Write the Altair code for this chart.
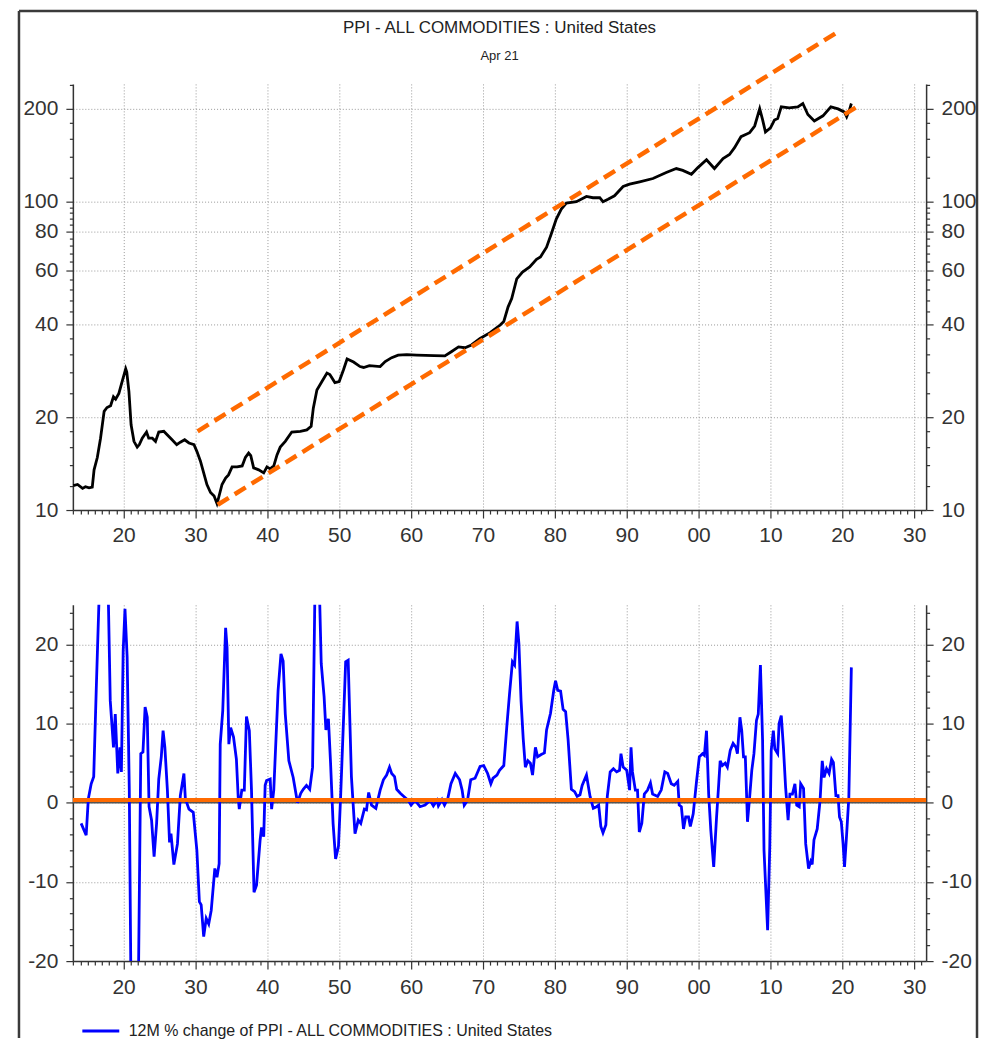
import altair as alt
import pandas as pd

FONT = "Liberation Sans"

# ---------------- data ----------------
top_year = [1913.0, 1913.6, 1914.3, 1914.7, 1915.2, 1915.65, 1915.9, 1916.35, 1916.8, 1917.3,
            1917.7, 1918.2, 1918.6, 1918.9, 1919.35, 1919.8, 1920.3, 1920.45, 1920.75, 1921.05,
            1921.45, 1921.9, 1922.2, 1922.6, 1923.2, 1923.5, 1924.0, 1924.45, 1924.9, 1925.6,
            1926.0, 1926.75, 1927.4, 1927.9, 1928.5, 1929.1, 1929.8, 1930.2, 1930.7, 1931.15,
            1931.6, 1932.1, 1932.6, 1933.0, 1933.2, 1933.7, 1934.2, 1934.6, 1935.1, 1935.8,
            1936.5, 1936.95, 1937.4, 1937.7, 1938.1, 1938.8, 1939.5, 1939.95, 1940.4, 1940.9,
            1941.35, 1941.8, 1942.5, 1943.4, 1944.6, 1945.5, 1946.1, 1946.4, 1946.9, 1947.6,
            1948.3, 1948.7, 1949.4, 1950.0, 1950.6, 1951.1, 1952.0, 1952.9, 1953.4, 1954.2,
            1955.7, 1956.4, 1957.3, 1958.2, 1959.4, 1960.8, 1963.2, 1964.7, 1965.6, 1966.6,
            1967.5, 1968.4, 1969.6, 1971.0, 1972.4, 1972.9, 1973.5, 1974.0, 1974.7, 1975.5,
            1976.5, 1977.45, 1978.0, 1978.85, 1979.5, 1980.2, 1980.9, 1981.6, 1983.0, 1984.4,
            1985.3, 1986.25, 1986.7, 1987.4, 1988.3, 1989.5, 1990.4, 1991.8, 1993.65, 1995.5,
            1996.9, 1997.8, 1999.0, 1999.9, 2001.1, 2002.2, 2003.4, 2004.3, 2005.0, 2005.9,
            2007.1, 2007.8, 2008.5, 2008.9, 2009.3, 2010.0, 2010.55, 2011.0, 2011.5, 2012.6,
            2013.8, 2014.5, 2015.2, 2016.1, 2017.3, 2018.4, 2019.4, 2020.3, 2020.6, 2021.0,
            2021.25]
top_value = [12.0, 12.1, 11.75, 11.9, 11.8, 11.86, 13.5, 14.8, 17.1, 20.9,
             21.5, 21.8, 23.3, 22.9, 23.9, 26.1, 28.7, 28.0, 24.2, 18.9,
             16.7, 16.0, 16.3, 17.1, 17.9, 17.1, 17.1, 16.7, 17.9, 18.0,
             17.6, 16.9, 16.3, 16.6, 16.9, 16.5, 16.3, 15.5, 14.4, 13.2,
             12.1, 11.4, 11.1, 10.5, 10.9, 12.1, 12.7, 13.0, 13.8, 13.8,
             13.9, 14.8, 15.3, 15.0, 13.7, 13.5, 13.2, 13.8, 13.6, 13.9,
             15.1, 16.0, 16.7, 17.9, 18.0, 18.2, 18.7, 21.4, 24.5, 26.1,
             27.8, 27.5, 25.9, 26.1, 28.5, 30.9, 30.2, 29.2, 29.0, 29.4,
             29.2, 30.3, 31.2, 31.8, 31.9, 31.8, 31.7, 31.6, 32.6, 33.8,
             33.6, 34.3, 36.0, 37.6, 39.8, 40.9, 45.6, 48.5, 56.2, 59.1,
             61.4, 65.0, 66.2, 71.2, 78.6, 87.8, 94.6, 99.0, 100.0, 104.0,
             103.0, 103.0, 100.0, 101.8, 104.5, 112.0, 114.0, 116.0, 118.9, 124.3,
             128.1, 126.3, 122.7, 129.0, 136.7, 128.1, 138.0, 142.3, 149.7, 162.5,
             167.4, 176.0, 200.1, 184.6, 168.3, 173.6, 184.0, 186.0, 203.1, 201.5,
             203.0, 208.2, 191.8, 182.6, 189.9, 203.0, 200.0, 195.2, 188.6, 199.0,
             208.2]

bot_year = [1914.1, 1914.8, 1915.1, 1915.5, 1915.85, 1916.2, 1916.6, 1917.0, 1917.5, 1917.9,
            1918.15, 1918.6, 1918.85, 1919.2, 1919.5, 1919.7, 1919.95, 1920.2, 1920.5, 1920.8,
            1921.0, 1921.3, 1921.7, 1922.1, 1922.4, 1922.7, 1923.0, 1923.3, 1923.55, 1923.9,
            1924.25, 1924.6, 1924.9, 1925.25, 1925.5, 1925.75, 1926.1, 1926.4, 1926.6, 1927.0,
            1927.5, 1927.9, 1928.4, 1928.6, 1929.1, 1929.7, 1930.2, 1930.55, 1930.8, 1931.15,
            1931.5, 1931.85, 1932.2, 1932.7, 1933.0, 1933.3, 1933.45, 1933.8, 1934.2, 1934.4,
            1934.65, 1934.9, 1935.3, 1935.7, 1935.95, 1936.1, 1936.45, 1936.8, 1937.1, 1937.5,
            1937.8, 1938.15, 1938.5, 1939.0, 1939.2, 1939.5, 1939.7, 1939.9, 1940.4, 1940.6,
            1940.9, 1941.5, 1941.9, 1942.2, 1942.5, 1943.0, 1943.6, 1944.2, 1944.65, 1945.0,
            1945.45, 1945.9, 1946.3, 1946.6, 1946.9, 1947.3, 1947.5, 1947.9, 1948.15, 1948.5,
            1948.8, 1949.15, 1949.5, 1949.9, 1950.2, 1950.55, 1950.9, 1951.25, 1951.7, 1952.2,
            1952.65, 1953.0, 1953.5, 1953.8, 1954.1, 1954.5, 1955.1, 1955.7, 1956.15, 1956.6,
            1957.0, 1957.3, 1957.7, 1958.0, 1958.5, 1959.0, 1959.6, 1960.0, 1960.55, 1961.25,
            1961.95, 1962.65, 1963.1, 1963.6, 1963.8, 1964.3, 1964.65, 1965.1, 1965.55, 1966.15,
            1966.75, 1967.1, 1967.4, 1967.85, 1968.3, 1968.9, 1969.6, 1970.1, 1970.65, 1971.1,
            1971.4, 1971.95, 1972.3, 1972.9, 1973.35, 1973.7, 1974.1, 1974.4, 1974.75, 1975.0,
            1975.3, 1975.6, 1975.9, 1976.25, 1976.6, 1976.9, 1977.3, 1977.6, 1978.1, 1978.55,
            1978.85, 1979.4, 1979.85, 1980.1, 1980.4, 1980.8, 1981.15, 1981.5, 1981.85, 1982.3,
            1982.75, 1983.1, 1983.5, 1983.8, 1984.4, 1984.9, 1985.35, 1985.8, 1986.1, 1986.4,
            1986.7, 1987.1, 1987.3, 1987.7, 1988.15, 1988.6, 1989.0, 1989.2, 1989.5, 1990.0,
            1990.4, 1990.6, 1990.8, 1991.2, 1991.5, 1991.75, 1992.1, 1992.45, 1992.9, 1993.3,
            1993.6, 1994.3, 1994.8, 1995.3, 1995.7, 1996.2, 1996.6, 1997.1, 1997.3, 1997.6,
            1997.9, 1998.2, 1998.6, 1998.85, 1999.25, 1999.7, 2000.1, 2000.55, 2000.8, 2001.1,
            2001.4, 2001.7, 2002.1, 2002.5, 2002.8, 2003.0, 2003.3, 2003.7, 2004.0, 2004.4,
            2004.8, 2005.2, 2005.4, 2005.75, 2006.0, 2006.25, 2006.5, 2006.8, 2007.1, 2007.4,
            2007.7, 2008.05, 2008.3, 2008.6, 2008.9, 2009.1, 2009.6, 2009.9, 2010.1, 2010.4,
            2010.6, 2011.0, 2011.2, 2011.5, 2011.8, 2012.1, 2012.45, 2012.7, 2013.05, 2013.4,
            2013.65, 2014.0, 2014.2, 2014.6, 2014.9, 2015.3, 2015.6, 2015.8, 2016.05, 2016.5,
            2016.9, 2017.2, 2017.45, 2017.8, 2018.15, 2018.5, 2018.75, 2019.1, 2019.4, 2019.6,
            2019.85, 2020.1, 2020.3, 2020.6, 2020.9, 2021.25]
bot_value = [-2.6, -4.1, 0.5, 2.4, 3.3, 14.2, 26.0, 33.0, 33.0, 25.0,
             12.9, 7.0, 11.2, 3.7, 7.0, 3.9, 19.2, 24.5, 18.4, 1.6,
             -20.0, -38.0, -35.0, -20.0, 6.2, 6.4, 12.1, 10.8, -0.5, -2.2,
             -6.8, -2.6, 3.0, 5.8, 9.1, 7.0, 1.6, -5.0, -3.9, -7.8,
             -5.2, 0.9, 3.7, 0.5, -0.8, -1.2, -6.0, -12.5, -12.9, -16.9,
             -14.6, -15.3, -13.6, -8.3, -9.4, -7.7, 7.4, 11.6, 22.1, 19.6,
             7.4, 9.5, 8.3, 5.5, 0.7, -0.8, 1.6, 1.6, 10.9, 9.1,
             1.6, -11.3, -10.4, -4.7, -3.1, -4.3, 2.2, 2.8, 3.0, -0.8,
             1.6, 14.2, 18.8, 17.9, 11.2, 5.3, 3.2, 0.0, 1.2, 1.7,
             2.2, 1.7, 4.5, 25.0, 32.0, 25.0, 17.6, 13.4, 9.2, 10.6,
             5.0, -2.6, -7.1, -5.5, 0.8, 9.2, 17.8, 18.0, 3.3, -3.9,
             -2.2, -2.6, -0.8, -0.9, 1.3, -0.3, -0.7, 1.6, 2.9, 3.5,
             4.5, 3.7, 3.3, 1.7, 1.2, 0.8, 0.3, -0.3, 0.3, -0.5,
             -0.3, 0.3, -0.4, 0.3, -0.4, 0.4, -0.3, 0.5, 2.4, 3.7,
             2.9, 1.6, -0.3, 0.3, 2.9, 3.1, 4.6, 4.7, 3.7, 2.4,
             3.1, 3.5, 4.1, 4.7, 10.0, 13.8, 17.8, 17.4, 22.9, 20.1,
             12.9, 8.1, 4.5, 5.3, 5.0, 3.5, 7.0, 5.8, 6.1, 6.3,
             9.2, 11.3, 14.2, 15.4, 14.2, 14.1, 11.8, 11.5, 7.9, 1.7,
             1.4, 0.8, 1.0, 2.2, 3.5, 0.8, -0.7, -0.5, -0.3, -3.0,
             -3.8, -2.8, 0.8, 3.9, 4.3, 3.9, 4.1, 6.2, 4.5, 4.1,
             1.6, 7.0, 3.9, 1.6, 1.6, -3.7, -2.6, 1.1, 1.6, 2.5,
             1.1, 0.8, 1.6, 3.9, 3.7, 2.4, 2.2, 2.7, -0.3, -0.5,
             -3.3, -1.8, -1.8, -3.0, -1.4, 2.6, 5.8, 6.2, 6.0, 9.1,
             1.1, -3.5, -8.1, -1.8, 2.4, 5.3, 4.7, 5.0, 4.5, 6.6,
             7.5, 7.0, 6.2, 10.8, 9.1, 5.8, 5.8, -2.4, 0.7, 4.1,
             6.2, 10.4, 11.2, 17.4, 7.9, -6.0, -16.1, -5.6, 6.6, 9.1,
             6.8, 6.2, 10.0, 11.0, 7.0, 2.0, -2.2, 1.1, 1.1, 2.4,
             -0.3, -0.5, 2.4, 1.8, -5.2, -8.3, -7.4, -7.8, -4.7, -3.3,
             0.3, 5.3, 3.2, 4.3, 3.7, 5.5, 5.1, 0.9, 0.9, -1.8,
             -2.4, -5.2, -8.1, -3.9, 0.7, 17.1]

upper_year = [1930.3, 2019.5]
upper_value = [18.0, 357.0]
lower_year = [1933.1, 2022.3]
lower_value = [10.4, 205.0]
zero_ref = [0.35]
zero_axis = [0]

series_label = "12M % change of PPI - ALL COMMODITIES : United States"
title_text = "PPI - ALL COMMODITIES : United States"
subtitle_text = "Apr 21"

x_ticks = list(range(1913, 2032))
top_major = [10, 20, 40, 60, 80, 100, 200]
top_ticks = [10, 12, 14, 16, 18, 20, 24, 28, 32, 36, 40, 44, 48, 52, 56, 60, 64, 68, 72, 76,
             80, 84, 88, 92, 96, 100, 120, 140, 160, 180, 200, 240]
bot_major = [-20, -10, 0, 10, 20]
bot_ticks = list(range(-20, 25, 2))

# ---------------- frames ----------------
top_df = pd.DataFrame({"year": top_year, "value": top_value})
bot_df = pd.DataFrame({"year": bot_year, "value": bot_value, "series": series_label})
trend_df = pd.DataFrame({
    "year": upper_year + lower_year,
    "value": upper_value + lower_value,
    "line": ["upper"] * len(upper_year) + ["lower"] * len(lower_year),
})
one = pd.DataFrame({"a": [0]})

W = 855
H_TOP = 427
H_BOT = 357
GAP = 95

xscale = alt.Scale(domain=[1912.95, 2031.65], nice=False, zero=False)
ytop_scale = alt.Scale(type="log", domain=[10, 241], nice=False)
ybot_scale = alt.Scale(domain=[-20, 25], nice=False, zero=False)

XMAJ = "datum.value % 10 === 0"


def x_axis():
    return alt.Axis(
        values=x_ticks,
        labelExpr=f"{XMAJ} ? slice('0' + toString(datum.value % 100), -2) : ''",
        tickSize={"condition": {"test": XMAJ, "value": 8}, "value": 4},
        gridOpacity={"condition": {"test": XMAJ, "value": 1}, "value": 0},
        grid=True, title=None, labelOverlap=False, labelFlush=False,
        labelPadding=7, orient="bottom",
    )


def y_axis(major, ticks, orient, grid):
    test = f"indexof({major}, datum.value) >= 0"
    return alt.Axis(
        values=ticks,
        labelExpr=f"{test} ? toString(datum.value) : ''",
        tickSize={"condition": {"test": test, "value": 7}, "value": 3.5},
        gridOpacity={"condition": {"test": test, "value": 1}, "value": 0},
        grid=grid, title=None, labelOverlap=False, labelFlush=False,
        labelPadding=8, orient=orient,
    )


FRAME = "#3a3a3a"
frame_top = alt.Chart(one).mark_rule(color=FRAME, strokeWidth=2.5).encode(
    x=alt.value(-54), x2=alt.value(906), y=alt.value(-73))
frame_left = alt.Chart(one).mark_rule(color=FRAME, strokeWidth=2.5).encode(
    x=alt.value(-54), y=alt.value(-73), y2=alt.value(956))
frame_right = alt.Chart(one).mark_rule(color=FRAME, strokeWidth=2.5).encode(
    x=alt.value(906), y=alt.value(-73), y2=alt.value(956))

title_mark = alt.Chart(one).mark_text(
    text=title_text, font=FONT, fontSize=17, color="#222", align="center", baseline="alphabetic"
).encode(x=alt.value(W / 2), y=alt.value(-51))
subtitle_mark = alt.Chart(one).mark_text(
    text=subtitle_text, font=FONT, fontSize=13, color="#222", align="center", baseline="alphabetic"
).encode(x=alt.value(W / 2), y=alt.value(-24))

ppi_line = alt.Chart(top_df).mark_line(color="black", strokeWidth=2.8).encode(
    x=alt.X("year:Q", scale=xscale, axis=x_axis()),
    y=alt.Y("value:Q", scale=ytop_scale, axis=y_axis(top_major, top_ticks, "left", True)),
)
ppi_right = alt.Chart(top_df).mark_line(opacity=0).encode(
    x=alt.X("year:Q", scale=xscale, axis=x_axis()),
    y=alt.Y("value:Q", scale=ytop_scale, axis=y_axis(top_major, top_ticks, "right", False)),
)
trend = alt.Chart(trend_df).mark_line(color="#ff6a00", strokeWidth=4.5, strokeDash=[13, 7]).encode(
    x=alt.X("year:Q", scale=xscale, axis=x_axis()),
    y=alt.Y("value:Q", scale=ytop_scale, axis=None),
    detail="line:N",
)

top = alt.layer(
    frame_top, frame_left, frame_right, title_mark, subtitle_mark, ppi_line, trend, ppi_right
).resolve_axis(y="independent").properties(width=W, height=H_TOP)

zero_df = pd.DataFrame({"v": zero_axis})
ref_df = pd.DataFrame({"v": zero_ref})

zero_line = alt.Chart(zero_df).mark_rule(color="#555", strokeWidth=1.5).encode(
    y=alt.Y("v:Q", scale=ybot_scale, axis=None))
chg_line = alt.Chart(bot_df).mark_line(strokeWidth=2.8, clip=True).encode(
    x=alt.X("year:Q", scale=xscale, axis=x_axis()),
    y=alt.Y("value:Q", scale=ybot_scale, axis=y_axis(bot_major, bot_ticks, "left", True)),
    color=alt.Color("series:N", scale=alt.Scale(domain=[series_label], range=["#0000ff"]),
                    legend=alt.Legend(orient="none", legendX=8, legendY=H_TOP + GAP + 407,
                                      title=None, symbolType="stroke", symbolSize=1369,
                                      symbolStrokeWidth=3, labelFont=FONT, labelFontSize=16,
                                      labelColor="#222", labelOffset=8, labelLimit=0)),
)
ref_line = alt.Chart(ref_df).mark_rule(color="#ff6a00", strokeWidth=4).encode(
    y=alt.Y("v:Q", scale=ybot_scale, axis=None))
chg_right = alt.Chart(bot_df).mark_line(opacity=0, clip=True).encode(
    x=alt.X("year:Q", scale=xscale, axis=x_axis()),
    y=alt.Y("value:Q", scale=ybot_scale, axis=y_axis(bot_major, bot_ticks, "right", False)),
)

bottom = alt.layer(zero_line, chg_line, ref_line, chg_right).resolve_axis(
    y="independent"
).properties(width=W, height=H_BOT)

chart = alt.vconcat(top, bottom, spacing=GAP, bounds="flush").properties(
    padding={"left": 9, "top": 0, "right": 0, "bottom": 0}
).configure_view(stroke=None).configure_axis(
    labelFont=FONT, labelFontSize=21, labelColor="#333",
    domainColor="#333", domainWidth=1.5, tickColor="#333", tickWidth=1.2,
    gridColor="#999", gridDash=[1, 2], gridWidth=1,
)

chart.save("out.html", embed_options={"renderer": "svg", "actions": False})
